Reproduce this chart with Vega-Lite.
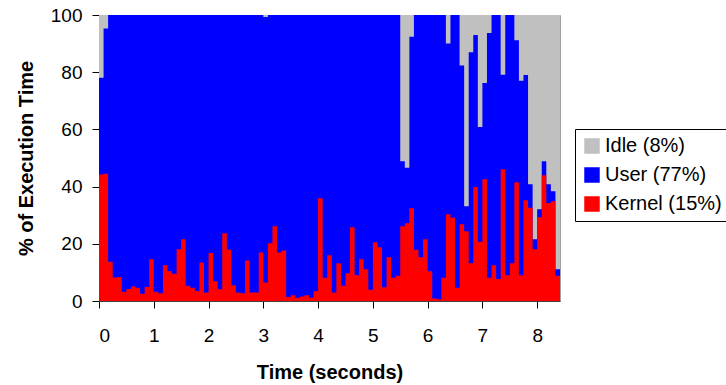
{
  "$schema": "https://vega.github.io/schema/vega-lite/v6.json",
  "width": 461,
  "height": 286,
  "autosize": {"type": "none"},
  "padding": {"left": 99, "top": 15, "right": 166, "bottom": 84},
  "background": "white",
  "config": {
    "font": "Liberation Sans",
    "view": {"stroke": "#A0A0A0", "strokeWidth": 1},
    "axis": {
      "grid": false,
      "tickColor": "black",
      "tickSize": 7,
      "domainColor": "#404040",
      "labelColor": "black",
      "labelFontSize": 19,
      "labelFont": "Liberation Sans",
      "titleFont": "Liberation Sans",
      "titleFontSize": 20,
      "titleFontWeight": "bold",
      "titleColor": "black"
    },
    "legend": {
      "orient": "none",
      "legendX": 476,
      "legendY": 114,
      "strokeColor": "black",
      "fillColor": "white",
      "padding": 7,
      "symbolType": "square",
      "symbolSize": 240,
      "symbolStrokeWidth": 0,
      "symbolOpacity": 1,
      "labelFontSize": 20,
      "labelFont": "Liberation Sans",
      "labelColor": "black",
      "labelOffset": 3,
      "labelLimit": 300,
      "rowPadding": 9,
      "title": null
    }
  },
  "data": {
    "values": [
      {"t": 0, "kernel": 44.2, "busy": 78.1},
      {"t": 0.0833, "kernel": 44.5, "busy": 95.3},
      {"t": 0.1667, "kernel": 13.7, "busy": 100},
      {"t": 0.25, "kernel": 8.2, "busy": 100},
      {"t": 0.3333, "kernel": 8.4, "busy": 100},
      {"t": 0.4167, "kernel": 3.2, "busy": 100},
      {"t": 0.5, "kernel": 4.2, "busy": 100},
      {"t": 0.5833, "kernel": 5.1, "busy": 100},
      {"t": 0.6667, "kernel": 4.6, "busy": 100},
      {"t": 0.75, "kernel": 2.5, "busy": 100},
      {"t": 0.8333, "kernel": 4.9, "busy": 100},
      {"t": 0.9167, "kernel": 14.6, "busy": 100},
      {"t": 1.0, "kernel": 3.2, "busy": 100},
      {"t": 1.0833, "kernel": 2.7, "busy": 100},
      {"t": 1.1667, "kernel": 12.5, "busy": 100},
      {"t": 1.25, "kernel": 10.4, "busy": 100},
      {"t": 1.3333, "kernel": 9.5, "busy": 100},
      {"t": 1.4167, "kernel": 18.1, "busy": 100},
      {"t": 1.5, "kernel": 21.6, "busy": 100},
      {"t": 1.5833, "kernel": 5.3, "busy": 100},
      {"t": 1.6667, "kernel": 4.6, "busy": 100},
      {"t": 1.75, "kernel": 3.5, "busy": 100},
      {"t": 1.8333, "kernel": 13.5, "busy": 100},
      {"t": 1.9167, "kernel": 3.0, "busy": 100},
      {"t": 2.0, "kernel": 16.8, "busy": 100},
      {"t": 2.0833, "kernel": 6.9, "busy": 100},
      {"t": 2.1667, "kernel": 4.1, "busy": 100},
      {"t": 2.25, "kernel": 23.7, "busy": 100},
      {"t": 2.3333, "kernel": 17.9, "busy": 100},
      {"t": 2.4167, "kernel": 5.5, "busy": 100},
      {"t": 2.5, "kernel": 3.0, "busy": 100},
      {"t": 2.5833, "kernel": 2.7, "busy": 100},
      {"t": 2.6667, "kernel": 14.2, "busy": 100},
      {"t": 2.75, "kernel": 3.0, "busy": 100},
      {"t": 2.8333, "kernel": 3.0, "busy": 100},
      {"t": 2.9167, "kernel": 17.0, "busy": 100},
      {"t": 3.0, "kernel": 6.5, "busy": 99.3},
      {"t": 3.0833, "kernel": 20.2, "busy": 100},
      {"t": 3.1667, "kernel": 26.1, "busy": 100},
      {"t": 3.25, "kernel": 17.0, "busy": 100},
      {"t": 3.3333, "kernel": 17.7, "busy": 100},
      {"t": 3.4167, "kernel": 1.4, "busy": 100},
      {"t": 3.5, "kernel": 2.0, "busy": 100},
      {"t": 3.5833, "kernel": 1.1, "busy": 100},
      {"t": 3.6667, "kernel": 1.6, "busy": 100},
      {"t": 3.75, "kernel": 2.0, "busy": 100},
      {"t": 3.8333, "kernel": 1.1, "busy": 100},
      {"t": 3.9167, "kernel": 3.4, "busy": 100},
      {"t": 4.0, "kernel": 35.9, "busy": 100},
      {"t": 4.0833, "kernel": 8.1, "busy": 100},
      {"t": 4.1667, "kernel": 16.0, "busy": 100},
      {"t": 4.25, "kernel": 3.0, "busy": 100},
      {"t": 4.3333, "kernel": 13.2, "busy": 100},
      {"t": 4.4167, "kernel": 5.3, "busy": 100},
      {"t": 4.5, "kernel": 9.7, "busy": 100},
      {"t": 4.5833, "kernel": 25.8, "busy": 100},
      {"t": 4.6667, "kernel": 9.0, "busy": 100},
      {"t": 4.75, "kernel": 14.6, "busy": 100},
      {"t": 4.8333, "kernel": 11.1, "busy": 100},
      {"t": 4.9167, "kernel": 3.9, "busy": 100},
      {"t": 5.0, "kernel": 20.5, "busy": 100},
      {"t": 5.0833, "kernel": 18.8, "busy": 100},
      {"t": 5.1667, "kernel": 4.8, "busy": 100},
      {"t": 5.25, "kernel": 15.3, "busy": 100},
      {"t": 5.3333, "kernel": 8.1, "busy": 100},
      {"t": 5.4167, "kernel": 8.8, "busy": 100},
      {"t": 5.5, "kernel": 26.1, "busy": 48.9},
      {"t": 5.5833, "kernel": 27.2, "busy": 46.6},
      {"t": 5.6667, "kernel": 32.4, "busy": 92.4},
      {"t": 5.75, "kernel": 17.9, "busy": 100},
      {"t": 5.8333, "kernel": 15.3, "busy": 100},
      {"t": 5.9167, "kernel": 21.6, "busy": 100},
      {"t": 6.0, "kernel": 10.4, "busy": 100},
      {"t": 6.0833, "kernel": 0.9, "busy": 100},
      {"t": 6.1667, "kernel": 0.6, "busy": 100},
      {"t": 6.25, "kernel": 8.1, "busy": 100},
      {"t": 6.3333, "kernel": 30.3, "busy": 90.0},
      {"t": 6.4167, "kernel": 29.1, "busy": 100},
      {"t": 6.5, "kernel": 4.6, "busy": 100},
      {"t": 6.5833, "kernel": 26.8, "busy": 82.3},
      {"t": 6.6667, "kernel": 24.4, "busy": 33.1},
      {"t": 6.75, "kernel": 13.2, "busy": 87.0},
      {"t": 6.8333, "kernel": 39.9, "busy": 93.0},
      {"t": 6.9167, "kernel": 20.7, "busy": 60.8},
      {"t": 7.0, "kernel": 42.6, "busy": 76.2},
      {"t": 7.0833, "kernel": 8.1, "busy": 93.7},
      {"t": 7.1667, "kernel": 12.5, "busy": 100},
      {"t": 7.25, "kernel": 7.7, "busy": 100},
      {"t": 7.3333, "kernel": 46.1, "busy": 79.1},
      {"t": 7.4167, "kernel": 9.0, "busy": 100},
      {"t": 7.5, "kernel": 13.2, "busy": 100},
      {"t": 7.5833, "kernel": 41.5, "busy": 91.2},
      {"t": 7.6667, "kernel": 9.0, "busy": 77.0},
      {"t": 7.75, "kernel": 35.2, "busy": 79.0},
      {"t": 7.8333, "kernel": 32.6, "busy": 40.8},
      {"t": 7.9167, "kernel": 18.1, "busy": 21.6},
      {"t": 8.0, "kernel": 29.3, "busy": 32.1},
      {"t": 8.0833, "kernel": 44.0, "busy": 48.9},
      {"t": 8.1667, "kernel": 34.3, "busy": 40.8},
      {"t": 8.25, "kernel": 34.9, "busy": 38.4},
      {"t": 8.3333, "kernel": 8.8, "busy": 11.1},
      {"t": 8.4167, "kernel": 8.8, "busy": 11.1}
    ]
  },
  "encoding": {
    "x": {
      "field": "t",
      "type": "quantitative",
      "scale": {"domain": [0, 8.4167], "nice": false, "zero": false},
      "axis": {"values": [0, 1, 2, 3, 4, 5, 6, 7, 8], "format": "d", "labelPadding": 18, "titlePadding": 17, "title": "Time (seconds)"}
    }
  },
  "layer": [
    {
      "mark": {"type": "area", "interpolate": "step-after", "opacity": 1},
      "encoding": {
        "y": {
          "datum": 100,
          "type": "quantitative",
          "scale": {"domain": [0, 100], "nice": false},
          "axis": {"values": [0, 20, 40, 60, 80, 100], "labelPadding": 10, "titlePadding": 14, "title": "% of Execution Time"}
        },
        "color": {
          "datum": "Idle (8%)",
          "type": "nominal",
          "scale": {"domain": ["Idle (8%)", "User (77%)", "Kernel (15%)"], "range": ["#C0C0C0", "#0000FF", "#FF0000"]}
        }
      }
    },
    {
      "mark": {"type": "area", "interpolate": "step-after", "opacity": 1},
      "encoding": {
        "y": {"field": "busy", "type": "quantitative", "stack": null},
        "color": {"datum": "User (77%)", "type": "nominal"}
      }
    },
    {
      "mark": {"type": "area", "interpolate": "step-after", "opacity": 1},
      "encoding": {
        "y": {"field": "kernel", "type": "quantitative", "stack": null},
        "color": {"datum": "Kernel (15%)", "type": "nominal"}
      }
    }
  ]
}
